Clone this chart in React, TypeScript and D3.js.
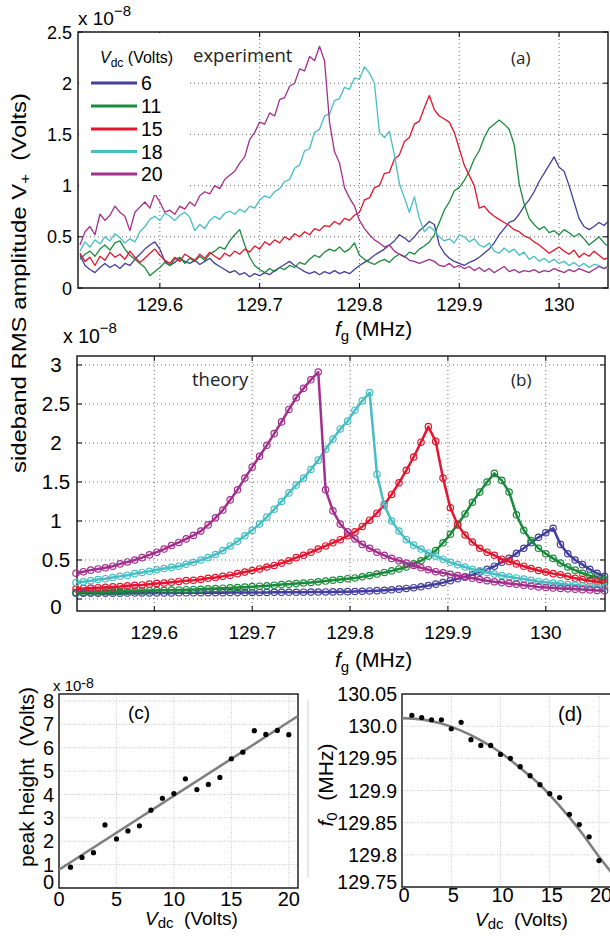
import React from 'react';
import * as d3 from 'd3';

const SANS = '"Liberation Sans", Arial, Helvetica, sans-serif';
const HUMAN = '"Open Sans", "DejaVu Sans", sans-serif';

const VDC_LABELS = ['6', '11', '15', '18', '20'];
const COLORS = ['#433f9b', '#1b8a3c', '#e4152f', '#47bec4', '#a32f8d'];

// (a) measured sweeps, sampled from EXP_F0 every EXP_DF MHz
const EXP_F0 = 129.52;
const EXP_DF = 0.005;
const EXP_6 = [
  0.32, 0.22, 0.18, 0.15, 0.2, 0.24, 0.2, 0.23, 0.19, 0.24,
  0.22, 0.28, 0.33, 0.38, 0.42, 0.45, 0.38, 0.26, 0.22, 0.25,
  0.29, 0.26, 0.24, 0.27, 0.23, 0.26, 0.29, 0.24, 0.21, 0.18,
  0.15, 0.17, 0.13, 0.15, 0.11, 0.14, 0.12, 0.15, 0.13, 0.17,
  0.2, 0.23, 0.26, 0.22, 0.19, 0.16, 0.14, 0.16, 0.13, 0.16,
  0.14, 0.17, 0.14, 0.16, 0.14, 0.18, 0.22, 0.25, 0.28, 0.32,
  0.35, 0.38, 0.42, 0.46, 0.52, 0.49, 0.45, 0.5, 0.56, 0.6,
  0.65, 0.62, 0.42, 0.34, 0.29, 0.26, 0.24, 0.22, 0.25, 0.27,
  0.3, 0.34, 0.38, 0.44, 0.52, 0.58, 0.64, 0.66, 0.72, 0.8,
  0.86, 0.94, 1.04, 1.12, 1.2, 1.28, 1.18, 1.14, 1.0, 0.84,
  0.68, 0.6, 0.57, 0.6, 0.64, 0.61, 0.66,
];
const EXP_11 = [
  0.28, 0.33, 0.36, 0.31, 0.38, 0.42, 0.37, 0.44, 0.46, 0.38,
  0.32, 0.28, 0.24, 0.2, 0.12, 0.16, 0.2, 0.25, 0.22, 0.28,
  0.3, 0.24, 0.29, 0.26, 0.31, 0.27, 0.33, 0.36, 0.4, 0.38,
  0.46, 0.52, 0.57, 0.42, 0.3, 0.22, 0.18, 0.15, 0.19, 0.16,
  0.2, 0.18, 0.22, 0.2, 0.25, 0.23, 0.28, 0.32, 0.3, 0.35,
  0.38, 0.36, 0.4, 0.35, 0.38, 0.44, 0.32, 0.28, 0.25, 0.23,
  0.26, 0.28, 0.25, 0.3, 0.33, 0.3, 0.35, 0.33, 0.38, 0.41,
  0.45, 0.52, 0.64, 0.76, 0.84, 0.95, 0.98, 1.05, 1.14, 1.26,
  1.34, 1.47, 1.56, 1.6, 1.64, 1.6, 1.55, 1.4, 1.02, 0.82,
  0.68, 0.62, 0.57, 0.6, 0.54, 0.56, 0.52, 0.57, 0.54, 0.5,
  0.53, 0.48, 0.42, 0.46, 0.5, 0.44, 0.4,
];
const EXP_15 = [
  0.34, 0.26, 0.3, 0.22, 0.31, 0.27, 0.35, 0.3, 0.33, 0.28,
  0.36, 0.3, 0.25, 0.29, 0.34, 0.38, 0.32, 0.27, 0.24, 0.3,
  0.26, 0.33, 0.3, 0.27, 0.33, 0.29, 0.35, 0.31, 0.28, 0.34,
  0.31, 0.36, 0.33, 0.38, 0.35, 0.41, 0.38, 0.45, 0.42, 0.47,
  0.44, 0.5, 0.47, 0.53, 0.5, 0.55, 0.52, 0.58, 0.56, 0.61,
  0.6, 0.65, 0.62, 0.68, 0.66, 0.71, 0.74, 0.86, 0.88, 0.98,
  1.0, 1.12, 1.13, 1.26, 1.3, 1.43, 1.47, 1.6, 1.63, 1.76,
  1.88, 1.74, 1.68, 1.65, 1.62, 1.52, 1.36, 1.2, 1.1, 1.0,
  0.78, 0.8, 0.74, 0.7, 0.67, 0.64, 0.61, 0.57, 0.55, 0.51,
  0.49, 0.45, 0.42, 0.38, 0.34, 0.37, 0.4, 0.36, 0.33, 0.37,
  0.3, 0.34, 0.31, 0.36, 0.32, 0.28, 0.3,
];
const EXP_18 = [
  0.36, 0.45, 0.4, 0.47, 0.43, 0.5, 0.46, 0.53, 0.49, 0.44,
  0.48, 0.45, 0.55, 0.6, 0.67, 0.7, 0.66, 0.73, 0.7, 0.66,
  0.71, 0.74, 0.69, 0.56, 0.62, 0.58, 0.66, 0.7, 0.67, 0.73,
  0.75, 0.72, 0.77, 0.74, 0.8, 0.78, 0.86, 0.9, 0.88, 0.94,
  0.97, 1.04, 1.06, 1.17, 1.2, 1.34, 1.36, 1.52, 1.55, 1.68,
  1.7, 1.83, 1.85, 1.96, 1.94, 2.05, 2.04, 2.16, 2.1, 2.0,
  1.52, 1.47, 1.53, 1.3, 1.02, 0.88, 0.74, 0.89, 0.68, 0.55,
  0.6, 0.56, 0.5, 0.46, 0.48, 0.44, 0.52, 0.5, 0.45, 0.48,
  0.42, 0.4, 0.44, 0.36, 0.34, 0.39, 0.35, 0.38, 0.32, 0.35,
  0.28, 0.31, 0.26, 0.29, 0.25, 0.28, 0.24, 0.26, 0.22, 0.25,
  0.21, 0.24, 0.2, 0.23, 0.22, 0.19, 0.2,
];
const EXP_20 = [
  0.42, 0.55, 0.6, 0.52, 0.72, 0.66, 0.71, 0.8, 0.74, 0.7,
  0.56, 0.74, 0.79, 0.84, 0.78, 0.92, 0.84, 0.74, 0.76, 0.72,
  0.8, 0.77, 0.84, 0.8, 0.9, 0.94, 0.92, 1.0, 0.97, 1.06,
  1.1, 1.14, 1.22, 1.28, 1.45, 1.52, 1.62, 1.6, 1.71, 1.68,
  1.84, 1.86, 1.97, 2.0, 2.14, 2.12, 2.26, 2.22, 2.36, 2.22,
  1.62, 1.33, 1.22, 0.98, 0.88, 0.8, 0.66, 0.58, 0.52, 0.47,
  0.44, 0.4, 0.42, 0.36, 0.33, 0.31, 0.27, 0.26, 0.24, 0.26,
  0.28, 0.26, 0.22, 0.21, 0.24, 0.2, 0.22, 0.19, 0.21, 0.17,
  0.2, 0.16, 0.19, 0.15, 0.18, 0.21, 0.16, 0.18, 0.15, 0.17,
  0.16, 0.18, 0.15, 0.17, 0.16, 0.19, 0.17, 0.15, 0.18, 0.16,
  0.19, 0.17, 0.15, 0.18, 0.21, 0.19, 0.22,
];
const EXPERIMENT = [EXP_6, EXP_11, EXP_15, EXP_18, EXP_20];

// (b) model curves, sampled from THEORY_F0 every THEORY_DF MHz
const THEORY_F0 = 129.52;
const THEORY_DF = 0.0075;
const THEORY_6 = [
  0.073, 0.073, 0.074, 0.074, 0.075, 0.075, 0.075, 0.076, 0.076, 0.077,
  0.077, 0.077, 0.078, 0.078, 0.079, 0.079, 0.079, 0.08, 0.08, 0.081,
  0.081, 0.082, 0.082, 0.083, 0.083, 0.084, 0.084, 0.085, 0.085, 0.086,
  0.086, 0.087, 0.088, 0.089, 0.09, 0.091, 0.092, 0.094, 0.096, 0.099,
  0.103, 0.107, 0.112, 0.118, 0.126, 0.135, 0.145, 0.157, 0.172, 0.19,
  0.21, 0.235, 0.26, 0.285, 0.31, 0.345, 0.38, 0.42, 0.47, 0.52,
  0.585, 0.65, 0.72, 0.79, 0.85, 0.906, 0.7, 0.58, 0.5, 0.44,
  0.38, 0.33, 0.29,
];
const THEORY_11 = [
  0.085, 0.087, 0.089, 0.091, 0.093, 0.095, 0.097, 0.099, 0.101, 0.103,
  0.106, 0.108, 0.111, 0.113, 0.116, 0.119, 0.122, 0.125, 0.13, 0.134,
  0.138, 0.142, 0.147, 0.152, 0.158, 0.164, 0.17, 0.177, 0.185, 0.19,
  0.197, 0.205, 0.212, 0.22, 0.23, 0.24, 0.25, 0.26, 0.27, 0.285,
  0.3, 0.32, 0.34, 0.36, 0.385, 0.41, 0.45, 0.49, 0.55, 0.62,
  0.72, 0.83, 0.96, 1.09, 1.24, 1.37, 1.5, 1.61, 1.52, 1.37,
  1.08, 0.88, 0.75, 0.65, 0.58, 0.52, 0.46, 0.41, 0.37, 0.33,
  0.3, 0.27, 0.245,
];
const THEORY_15 = [
  0.13, 0.135, 0.14, 0.145, 0.15, 0.155, 0.16, 0.17, 0.175, 0.18,
  0.19, 0.2, 0.205, 0.215, 0.225, 0.235, 0.24, 0.25, 0.265, 0.275,
  0.29, 0.305, 0.325, 0.345, 0.365, 0.385, 0.41, 0.43, 0.46, 0.49,
  0.53, 0.56, 0.6, 0.64, 0.68, 0.72, 0.76, 0.81, 0.86, 0.93,
  1.01, 1.1, 1.21, 1.34, 1.49, 1.65, 1.82, 2.01, 2.21, 2.02,
  1.55, 1.17, 0.95, 0.82, 0.73, 0.65, 0.6, 0.56, 0.51, 0.48,
  0.45, 0.42, 0.39, 0.365, 0.345, 0.325, 0.31, 0.29, 0.265, 0.25,
  0.235, 0.22, 0.205,
];
const THEORY_18 = [
  0.21, 0.22, 0.235, 0.25, 0.26, 0.275, 0.29, 0.305, 0.325, 0.34,
  0.355, 0.375, 0.39, 0.405, 0.42, 0.445, 0.47, 0.5, 0.53, 0.57,
  0.62, 0.68, 0.74, 0.81, 0.88, 0.96, 1.05, 1.15, 1.25, 1.36,
  1.46, 1.55, 1.66, 1.78, 1.92, 2.05, 2.18, 2.28, 2.42, 2.54,
  2.645, 1.6, 1.2, 1.0, 0.87, 0.76, 0.69, 0.64, 0.59, 0.55,
  0.51, 0.47, 0.44, 0.41, 0.38, 0.36, 0.34, 0.32, 0.3, 0.285,
  0.27, 0.255, 0.24, 0.225, 0.215, 0.205, 0.195, 0.185, 0.178, 0.17,
  0.163, 0.156, 0.15,
];
const THEORY_20 = [
  0.33, 0.35, 0.37, 0.385, 0.4, 0.42, 0.45, 0.475, 0.5, 0.53,
  0.565, 0.6, 0.64, 0.685, 0.725, 0.77, 0.815, 0.87, 0.95, 1.04,
  1.14, 1.27, 1.4, 1.55, 1.69, 1.83, 1.97, 2.12, 2.27, 2.43,
  2.58, 2.7, 2.81, 2.91, 1.4, 1.13, 0.96, 0.86, 0.77, 0.7,
  0.65, 0.6, 0.56, 0.52, 0.49, 0.46, 0.43, 0.4, 0.375, 0.35,
  0.335, 0.315, 0.3, 0.28, 0.265, 0.25, 0.235, 0.22, 0.21, 0.2,
  0.19, 0.175, 0.165, 0.155, 0.148, 0.14, 0.135, 0.13, 0.125, 0.12,
  0.115, 0.11, 0.107,
];
const THEORY = [THEORY_6, THEORY_11, THEORY_15, THEORY_18, THEORY_20];

// (c) peak height vs Vdc
const C_VDC = [1, 2, 3, 4, 5, 6, 7, 8, 9, 10, 11, 12, 13, 14, 15, 16, 17, 18, 19, 20];
const C_PEAK = [0.89, 1.31, 1.51, 2.7, 2.1, 2.44, 2.66, 3.33, 3.84, 4.04, 4.67, 4.21, 4.43, 4.73, 5.53, 5.81, 6.73, 6.57, 6.74, 6.56];
const C_FIT_VDC = [0, 20.8];
const C_FIT_PEAK = [0.78, 7.36];

// (d) resonance frequency vs Vdc
const D_VDC = [1, 2, 3, 4, 5, 6, 7, 8, 9, 10, 11, 12, 13, 14, 15, 16, 17, 18, 19, 20];
const D_F0 = [130.017, 130.0135, 130.01, 130.01, 129.996, 130.006, 129.979, 129.97, 129.97, 129.956, 129.95, 129.937, 129.923, 129.909, 129.895, 129.889, 129.863, 129.847, 129.828, 129.791];
const D_FIT_VDC = [0, 2, 4, 6, 8, 10, 12, 14, 16, 18, 20, 21.5];
const D_FIT_F0 = [130.0125, 130.0105, 130.004, 129.993, 129.978, 129.959, 129.935, 129.909, 129.876, 129.839, 129.797, 129.768];

const F_TICKS = [129.6, 129.7, 129.8, 129.9, 130];
const F_LABELS = ['129.6', '129.7', '129.8', '129.9', '130'];
const A_Y_TICKS = [0, 0.5, 1, 1.5, 2, 2.5];
const A_Y_LABELS = ['0', '0.5', '1', '1.5', '2', '2.5'];
const B_Y_TICKS = [0, 0.5, 1, 1.5, 2, 2.5, 3];
const B_Y_LABELS = ['0', '0.5', '1', '1.5', '2', '2.5', '3'];
const V_TICKS = [0, 5, 10, 15, 20];
const C_Y_TICKS = [0, 1, 2, 3, 4, 5, 6, 7, 8];
const D_Y_TICKS = [129.75, 129.8, 129.85, 129.9, 129.95, 130.0, 130.05];
const D_Y_LABELS = ['129.75', '129.8', '129.85', '129.9', '129.95', '130.0', '130.05'];

// scales
const xA = d3.scaleLinear().domain([129.518, 130.049]).range([78, 608]);
const yA = d3.scaleLinear().domain([0, 2.5]).range([288, 32]);
const xB = d3.scaleLinear().domain([129.521, 130.0605]).range([77, 605]);
const yB = d3.scaleLinear().domain([-0.154, 3.115]).range([611, 356]);
const xC = d3.scaleLinear().domain([0, 20.8]).range([59, 298]);
const yC = d3.scaleLinear().domain([0, 8.3]).range([888, 694]);
const xD = d3.scaleLinear().domain([0, 21.5]).range([402, 613.8]);
const yD = d3.scaleLinear().domain([129.75, 130.05]).range([887, 694]);

const Frame = ({ x, y, xt, yt, grid, dash, gw, tick }: any) => {
  const [x0, x1] = x.range();
  const [y0, y1] = y.range();
  return (
    <g>
      {xt.map((t: number) => (
        <line key={'gx' + t} x1={x(t)} x2={x(t)} y1={y0} y2={y1} stroke={grid} strokeWidth={gw} strokeDasharray={dash} />
      ))}
      {yt.map((t: number) => (
        <line key={'gy' + t} x1={x0} x2={x1} y1={y(t)} y2={y(t)} stroke={grid} strokeWidth={gw} strokeDasharray={dash} />
      ))}
      {tick > 0 && xt.map((t: number) => (
        <g key={'tx' + t} stroke="#000" strokeWidth={1}>
          <line x1={x(t)} x2={x(t)} y1={y0} y2={y0 - tick} />
          <line x1={x(t)} x2={x(t)} y1={y1} y2={y1 + tick} />
        </g>
      ))}
      {tick > 0 && yt.map((t: number) => (
        <g key={'ty' + t} stroke="#000" strokeWidth={1}>
          <line x1={x0} x2={x0 + tick} y1={y(t)} y2={y(t)} />
          <line x1={x1} x2={x1 - tick} y1={y(t)} y2={y(t)} />
        </g>
      ))}
      <rect x={x0} y={y1} width={x1 - x0} height={y0 - y1} fill="none" stroke="#111" strokeWidth={1.4} />
    </g>
  );
};

const expLine = (vals: number[]) =>
  d3.line<number>().x((_, i) => xA(EXP_F0 + i * EXP_DF)).y((v) => yA(v))(vals) || '';

const theoryLine = (vals: number[]) =>
  d3.line<number>().x((_, i) => xB(THEORY_F0 + i * THEORY_DF)).y((v) => yB(v))(vals) || '';

export default function App() {
  const fitC = d3.line<number>().x((v) => xC(v)).y((_, i) => yC(C_FIT_PEAK[i]))(C_FIT_VDC) || '';
  const fitD = d3.line<number>().curve(d3.curveMonotoneX).x((v) => xD(v)).y((_, i) => yD(D_FIT_F0[i]))(D_FIT_VDC) || '';
  const legendY = [83, 106, 129, 151.5, 174];

  return (
    <svg width={610} height={937} style={{ position: 'absolute', left: 0, top: 0, background: '#fff' }} fontFamily={SANS}>
      <rect width={610} height={937} fill="#fff" />
      <defs>
        <clipPath id="clipA"><rect x={78} y={32} width={530} height={256} /></clipPath>
        <clipPath id="clipD"><rect x={401} y={694} width={215} height={193} /></clipPath>
      </defs>

      {/* ---------- (a) experiment ---------- */}
      <Frame x={xA} y={yA} xt={F_TICKS} yt={A_Y_TICKS} grid="#444" dash="1 3" gw={0.8} tick={5} />
      <g clipPath="url(#clipA)" fill="none" strokeWidth={1.3} strokeLinejoin="round">
        {EXPERIMENT.map((vals, i) => (
          <path key={i} d={expLine(vals)} stroke={COLORS[i]} />
        ))}
      </g>
      <rect x={79} y={33} width={108} height={162} fill="#fff" />
      <text x={100} y={63} fontSize={16}>
        <tspan fontStyle="italic">V</tspan>
        <tspan fontSize={12} dy={4}>dc</tspan>
        <tspan dy={-4}>{'\u00a0(Volts)'}</tspan>
      </text>
      {VDC_LABELS.map((lab, i) => (
        <g key={lab}>
          <line x1={91} x2={137} y1={legendY[i]} y2={legendY[i]} stroke={COLORS[i]} strokeWidth={3.2} />
          <text x={141} y={legendY[i] + 7} fontSize={19.5}>{lab}</text>
        </g>
      ))}
      <text x={193} y={62} fontSize={18.5} fontFamily={HUMAN} fill="#222">experiment</text>
      <text x={511} y={64} fontSize={17} fontFamily={HUMAN} fill="#222">(a)</text>
      {A_Y_TICKS.map((t, i) => (
        <text key={t} x={72} y={yA(t) + 6.5} fontSize={18} textAnchor="end">{A_Y_LABELS[i]}</text>
      ))}
      {F_TICKS.map((t, i) => (
        <text key={t} x={xA(t)} y={311} fontSize={18.5} textAnchor="middle">{F_LABELS[i]}</text>
      ))}
      <text x={78} y={25} fontSize={19}>
        x 10<tspan fontSize={15} dy={-9}>{'\u22128'}</tspan>
      </text>
      <text x={335} y={336} fontSize={21}>
        <tspan fontStyle="italic">f</tspan>
        <tspan fontSize={15} dy={5}>g</tspan>
        <tspan dy={-5}>{'\u00a0(MHz)'}</tspan>
      </text>

      {/* shared y label */}
      <text transform="translate(26,283) rotate(-90)" fontSize={21} textAnchor="middle" textLength={380} lengthAdjust="spacingAndGlyphs">
        sideband RMS amplitude V<tspan fontSize={15} dy={4}>+</tspan>
        <tspan dy={-4}>{'\u00a0\u00a0(Volts)'}</tspan>
      </text>

      {/* ---------- (b) theory ---------- */}
      <Frame x={xB} y={yB} xt={F_TICKS} yt={B_Y_TICKS} grid="#444" dash="1 3" gw={0.8} tick={5} />
      <g fill="none">
        {THEORY.map((vals, i) => (
          <g key={i} stroke={COLORS[i]}>
            <path d={theoryLine(vals)} strokeWidth={2.5} strokeLinejoin="round" />
            {vals.map((v, j) => (
              <circle key={j} cx={xB(THEORY_F0 + j * THEORY_DF)} cy={yB(v)} r={3.2} strokeWidth={1.2} />
            ))}
          </g>
        ))}
      </g>
      <text x={192} y={386} fontSize={18.5} fontFamily={HUMAN} fill="#222">theory</text>
      <text x={511} y={386} fontSize={17} fontFamily={HUMAN} fill="#222">(b)</text>
      {B_Y_TICKS.map((t, i) => (
        <text key={t} x={56} y={(t === 0 ? 607 : yB(t)) + 7} fontSize={20.5} textAnchor="middle">{B_Y_LABELS[i]}</text>
      ))}
      {F_TICKS.map((t, i) => (
        <text key={t} x={xB(t)} y={639} fontSize={19} textAnchor="middle">{F_LABELS[i]}</text>
      ))}
      <text x={63} y={343} fontSize={19.5}>
        x 10<tspan fontSize={15} dy={-10}>{'\u22128'}</tspan>
      </text>
      <text x={335} y={667} fontSize={21}>
        <tspan fontStyle="italic">f</tspan>
        <tspan fontSize={15} dy={5}>g</tspan>
        <tspan dy={-5}>{'\u00a0(MHz)'}</tspan>
      </text>

      {/* ---------- (c) peak height ---------- */}
      <Frame x={xC} y={yC} xt={V_TICKS.slice(1)} yt={C_Y_TICKS.slice(1)} grid="#b8b8b8" dash="1 1.5" gw={0.8} tick={0} />
      <path d={fitC} stroke="#7f7f7f" strokeWidth={2.6} fill="none" />
      {C_VDC.map((v, i) => (
        <circle key={v} cx={xC(v)} cy={yC(C_PEAK[i])} r={2.6} fill="#000" />
      ))}
      <text x={128} y={719} fontSize={19}>(c)</text>
      {C_Y_TICKS.map((t) => (
        <text key={t} x={54} y={(t === 0 ? 882 : yC(t)) + 7} fontSize={20} textAnchor="end">{t}</text>
      ))}
      {V_TICKS.map((t) => (
        <text key={t} x={xC(t)} y={906} fontSize={20} textAnchor="middle">{t}</text>
      ))}
      <text x={53} y={691} fontSize={15}>
        x 10<tspan fontSize={14} dy={-3}>-8</tspan>
      </text>
      <text transform="translate(34,777) rotate(-90)" fontSize={21} textAnchor="middle">
        peak height{'\u00a0\u00a0(Volts)'}
      </text>
      <text x={145} y={925} fontSize={19}>
        <tspan fontStyle="italic">V</tspan>
        <tspan fontSize={15} dy={3}>dc</tspan>
        <tspan dy={-3}>{'\u00a0\u00a0(Volts)'}</tspan>
      </text>
      <line x1={308} x2={308} y1={700} y2={877} stroke="#cfcfcf" strokeWidth={1} />

      {/* ---------- (d) resonance frequency ---------- */}
      <Frame x={xD} y={yD} xt={V_TICKS.slice(1)} yt={D_Y_TICKS.slice(1, 6)} grid="#b8b8b8" dash="1 1.5" gw={0.8} tick={0} />
      <path d={fitD} stroke="#7f7f7f" strokeWidth={2.6} fill="none" clipPath="url(#clipD)" />
      {D_VDC.map((v, i) => (
        <circle key={v} cx={xD(v)} cy={yD(D_F0[i])} r={2.6} fill="#000" />
      ))}
      <text x={558} y={721} fontSize={20}>(d)</text>
      {D_Y_TICKS.map((t, i) => (
        <text key={t} x={397} y={(i === 0 ? 882 : yD(t)) + 7} fontSize={19.5} textAnchor="end">{D_Y_LABELS[i]}</text>
      ))}
      {V_TICKS.map((t) => (
        <text key={t} x={xD(t) + 2} y={902} fontSize={20} textAnchor="middle">{t}</text>
      ))}
      <text transform="translate(333,785) rotate(-90)" fontSize={21} textAnchor="middle">
        <tspan fontStyle="italic">f</tspan>
        <tspan fontSize={15} dy={4}>0</tspan>
        <tspan dy={-4}>{'\u00a0\u00a0(MHz)'}</tspan>
      </text>
      <text x={475} y={926} fontSize={19}>
        <tspan fontStyle="italic">V</tspan>
        <tspan fontSize={15} dy={3}>dc</tspan>
        <tspan dy={-3}>{'\u00a0\u00a0(Volts)'}</tspan>
      </text>
    </svg>
  );
}
